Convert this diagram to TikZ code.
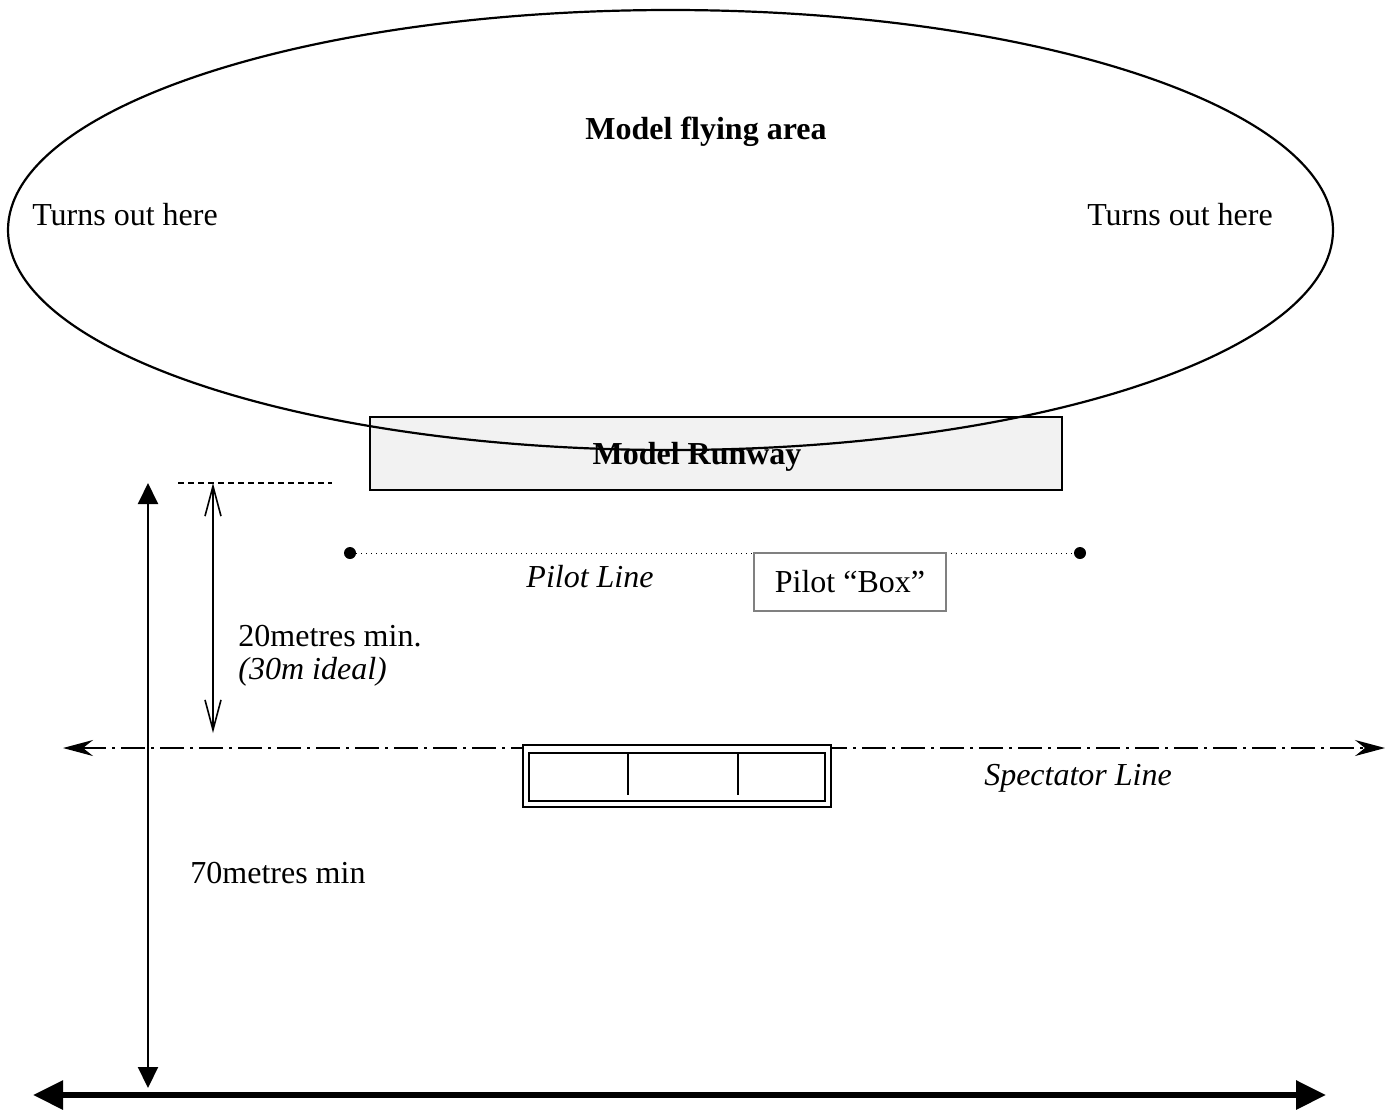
\documentclass[tikz,border=0pt]{standalone}
\usepackage{fontspec}
\setmainfont{Liberation Serif}
\usetikzlibrary{arrows.meta}
\begin{document}
\begin{tikzpicture}[x=0.5pt,y=-0.5pt,
  txt/.style={inner sep=0pt,font=\fontsize{16}{19}\selectfont},
  itxt/.style={txt,font=\fontsize{16}{19}\selectfont\itshape},
  btxt/.style={txt,font=\fontsize{16}{19}\selectfont\bfseries},
  thinarrow/.style={line width=0.7pt,{Straight Barb[length=15pt,width=8pt,line width=0.8pt]}-{Straight Barb[length=15pt,width=8pt,line width=0.8pt]}},
  bigvarrow/.style={line width=1pt,{Triangle[length=10.5pt,width=10pt]}-{Triangle[length=10.5pt,width=10pt]}},
  basearrow/.style={line width=3pt,{Triangle[length=15pt,width=14pt]}-{Triangle[length=15pt,width=14pt]}},
  specline/.style={line width=0.9pt,dash pattern=on 12pt off 3pt on 1.5pt off 3pt,{Stealth[length=15pt,width=8pt,inset=5pt]}-{Stealth[length=15pt,width=8pt,inset=5pt]}},
  pdot/.style={circle,fill=black,inner sep=0pt,minimum size=6pt}
]
\useasboundingbox (0,0) rectangle (1385,1110);
\fill[white] (0,0) rectangle (1385,1110);

% runway
\draw[line width=1.1pt,fill=black!5] (370,417) rectangle (1062,490);
\node[btxt] (runway) at (697,457) {Model Runway};

% flying area
\draw[line width=1.1pt] (670.5,230) ellipse [x radius=662.5, y radius=220];
\node[btxt] (area) at (706,132) {Model flying area};
\node[txt] (turnL) at (125,215) {Turns out here};
\node[txt] (turnR) at (1180,215) {Turns out here};

% reference dashed line
\coordinate (dashL) at (178,483);
\coordinate (dashR) at (332,483);
\draw[line width=0.6pt,dash pattern=on 3pt off 2pt] (dashL) -- (dashR);

% 20 m arrow
\coordinate (t20) at (213,483);
\coordinate (b20) at (213,733);
\draw[thinarrow] (t20) -- (b20);
\node[txt,anchor=west] (m20) at (238,636) {20metres min.};
\node[itxt,anchor=west] (ideal) at (238,672) {(30m ideal)};

% 70 m arrow
\coordinate (t70) at (148,483);
\coordinate (b70) at (148,1088);
\draw[bigvarrow] (t70) -- (b70);
\node[txt,anchor=west] (m70) at (190,873) {70metres min};

% pilot line
\node[pdot] (pl) at (350,553) {};
\node[pdot] (pr) at (1080,553) {};
\draw[line width=0.5pt,dotted] (pl) -- (pr);
\node[itxt] (pline) at (590,577) {Pilot Line};
\node[txt,draw=black!50,line width=0.8pt,minimum width=96pt,minimum height=29pt] (pbox) at (850,582) {Pilot “Box”};

% spectator line
\coordinate (sL) at (63,748);
\coordinate (sR) at (1385,748);
\draw[specline] (sL) -- (sR);
\node[itxt] (sline) at (1078,778) {Spectator Line};

% spectator enclosure
\draw[line width=0.6pt,fill=white] (523,745) rectangle (831,807);
\draw[line width=1.1pt] (529,753) rectangle (825,801);
\draw[line width=0.9pt] (628,753) -- (628,795);
\draw[line width=0.9pt] (738,753) -- (738,795);

% base line
\coordinate (bL) at (33,1095);
\coordinate (bR) at (1326,1095);
\draw[basearrow] (bL) -- (bR);
\end{tikzpicture}
\end{document}
